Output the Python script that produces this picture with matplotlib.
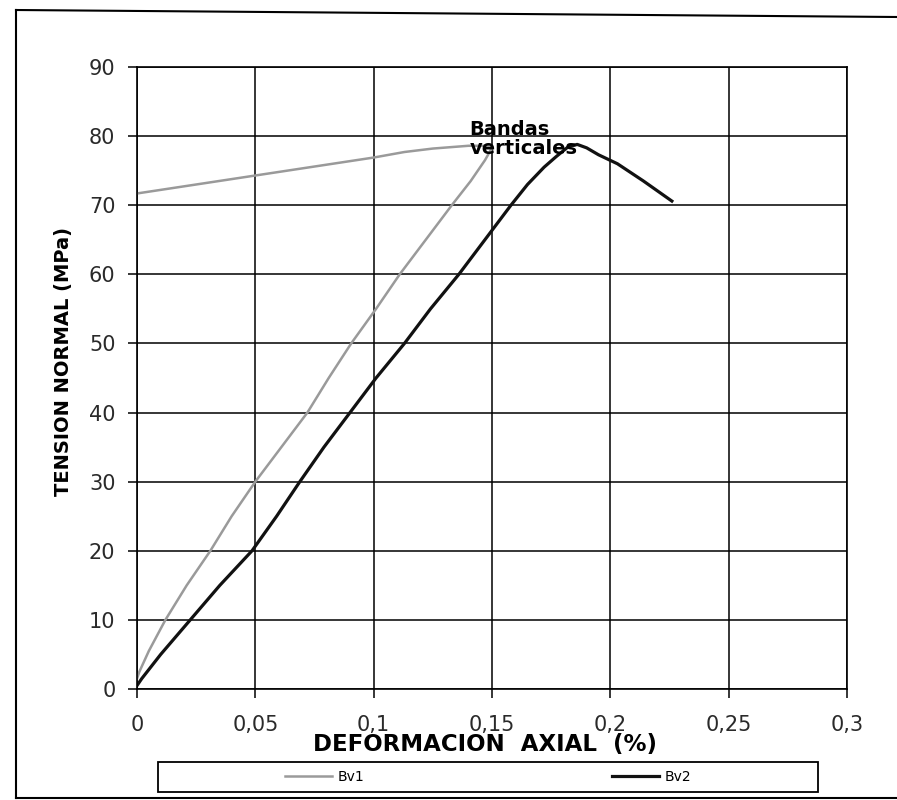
import matplotlib
matplotlib.use("Agg")
import matplotlib.pyplot as plt
from matplotlib.lines import Line2D
from matplotlib.patches import Rectangle

# axial strain (%) and normal stress (MPa)
bv1_x = [0, 0.001, 0.005, 0.012, 0.021, 0.031, 0.040, 0.050, 0.061, 0.072,
         0.081, 0.0905, 0.101, 0.111, 0.122, 0.133, 0.141, 0.147, 0.150,
         0.148, 0.140, 0.125, 0.113, 0.100, 0.075, 0.050, 0.025, 0]
bv1_y = [1.5, 2.5, 5.5, 10, 15, 20, 25, 30, 35, 40,
         45, 50, 55, 60, 65, 70, 73.5, 76.5, 78.3,
         78.6, 78.6, 78.2, 77.7, 76.9, 75.6, 74.3, 73.0, 71.7]

bv2_x = [0, 0.002, 0.010, 0.0225, 0.035, 0.0486, 0.059, 0.0688, 0.079, 0.090,
         0.101, 0.113, 0.124, 0.136, 0.147, 0.158, 0.165, 0.172, 0.177, 0.182,
         0.186, 0.190, 0.195, 0.203, 0.214, 0.226]
bv2_y = [0.5, 1.5, 5, 10, 15, 20, 25, 30, 35, 40,
         45, 50, 55, 60, 65, 70, 73, 75.5, 77, 78.4,
         78.8, 78.3, 77.3, 76.0, 73.5, 70.6]

x_ticks = [0, 0.05, 0.1, 0.15, 0.2, 0.25, 0.3]
x_labels = ['0', '0,05', '0,1', '0,15', '0,2', '0,25', '0,3']
y_ticks = [0, 10, 20, 30, 40, 50, 60, 70, 80, 90]

fig = plt.figure(figsize=(8.97, 8.0), dpi=100)
ax = fig.add_axes([137 / 897, 1 - 689 / 800, 710 / 897, 622 / 800])

ax.plot(bv1_x, bv1_y, color='#9a9a9a', linewidth=1.8, label='Bv1')
ax.plot(bv2_x, bv2_y, color='#111111', linewidth=2.3, label='Bv2')

ax.set_xlim(0, 0.3)
ax.set_ylim(0, 90)
ax.set_xticks(x_ticks)
ax.set_xticklabels(x_labels)
ax.set_yticks(y_ticks)
ax.grid(True, color='black', linewidth=1.1)
ax.set_axisbelow(True)
for s in ax.spines.values():
    s.set_linewidth(1.2)
ax.tick_params(axis='both', direction='out', length=6.5, width=1.1,
               labelsize=15, colors='black', labelcolor='#2a2a2a')
ax.tick_params(axis='x', pad=12)
ax.tick_params(axis='y', pad=9)

ax.set_xlabel('DEFORMACION  AXIAL  (%)', fontsize=16.5, fontweight='bold')
ax.xaxis.label.set_va('center')
ax.xaxis.set_label_coords(0.49, -0.09)
ax.set_ylabel('TENSION NORMAL (MPa)', fontsize=14, fontweight='bold')
ax.yaxis.label.set_va('center')
ax.yaxis.set_label_coords(-0.103, 0.526)

ax.text(0.1405, 79.6, 'Bandas\nverticales', fontsize=14, fontweight='bold',
        va='center', ha='left', linespacing=1.05)

# legend box below the axis title
fig.patches.append(Rectangle((158 / 897, 8 / 800), 660 / 897, 30 / 800,
                             transform=fig.transFigure, fill=False,
                             edgecolor='black', linewidth=1.3))
fig.legend(loc='center', bbox_to_anchor=(488 / 897, 23 / 800), ncol=2,
           frameon=False, fontsize=10, handlelength=3.4, handletextpad=0.4,
           columnspacing=17.8)

# outer chart frame (left, top, bottom)
fig.lines.append(Line2D([16 / 897, 16 / 897], [1 - 10 / 800, 1 - 798 / 800],
                        transform=fig.transFigure, color='black', linewidth=1.5))
fig.lines.append(Line2D([16 / 897, 1.0], [1 - 10 / 800, 1 - 17 / 800],
                        transform=fig.transFigure, color='black', linewidth=1.5))
fig.lines.append(Line2D([16 / 897, 1.0], [1 - 798 / 800, 1 - 798 / 800],
                        transform=fig.transFigure, color='black', linewidth=1.5))

fig.savefig('out.png', dpi=100)
